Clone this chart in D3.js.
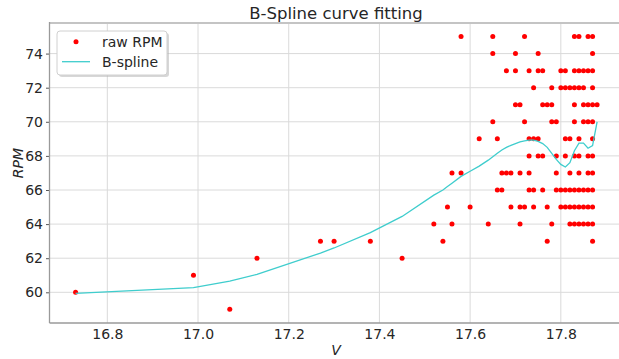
<!DOCTYPE html>
<html>
<head>
<meta charset="utf-8">
<script src="https://cdn.jsdelivr.net/npm/d3@7"></script>
<style>
  body { margin: 0; background: #fff; }
  text { font-family: "DejaVu Sans", sans-serif; }
</style>
</head>
<body>
<div id="chart"></div>
<script>
// raw measurements
const rawV = [
  16.73, 16.99, 17.07, 17.13, 17.27, 17.30, 17.38, 17.45, 17.52, 17.54, 17.55,
  17.58, 17.65, 17.72, 17.83, 17.84, 17.86, 17.87,
  17.65, 17.70, 17.75, 17.87,
  17.68, 17.70, 17.73, 17.75, 17.76, 17.80, 17.81, 17.83, 17.84, 17.85, 17.86, 17.87,
  17.74, 17.78, 17.80, 17.81, 17.82, 17.83, 17.84, 17.85, 17.87,
  17.70, 17.71, 17.76, 17.77, 17.78, 17.83, 17.85, 17.86, 17.87, 17.88,
  17.65, 17.72, 17.78, 17.79, 17.83, 17.85, 17.86, 17.87,
  17.62, 17.66, 17.73, 17.74, 17.75, 17.81, 17.82, 17.84, 17.87,
  17.73, 17.75, 17.76, 17.79, 17.81, 17.83, 17.84, 17.86, 17.87,
  17.56, 17.58, 17.67, 17.68, 17.69, 17.71, 17.73, 17.79, 17.82, 17.84, 17.86, 17.87,
  17.66, 17.67, 17.73, 17.74, 17.76, 17.79, 17.80, 17.81, 17.82, 17.83, 17.84, 17.85, 17.86, 17.87,
  17.60, 17.69, 17.71, 17.72, 17.74, 17.77, 17.80, 17.81, 17.82, 17.83, 17.84, 17.85, 17.86, 17.87,
  17.56, 17.64, 17.71, 17.78, 17.82, 17.83, 17.84, 17.85, 17.86, 17.87,
  17.77, 17.87
];
const rawRPM = [
  60, 61, 59, 62, 63, 63, 63, 62, 64, 63, 65,
  75, 75, 75, 75, 75, 75, 75,
  74, 74, 74, 74,
  73, 73, 73, 73, 73, 73, 73, 73, 73, 73, 73, 73,
  72, 72, 72, 72, 72, 72, 72, 72, 72,
  71, 71, 71, 71, 71, 71, 71, 71, 71, 71,
  70, 70, 70, 70, 70, 70, 70, 70,
  69, 69, 69, 69, 69, 69, 69, 69, 69,
  68, 68, 68, 68, 68, 68, 68, 68, 68,
  67, 67, 67, 67, 67, 67, 67, 67, 67, 67, 67, 67,
  66, 66, 66, 66, 66, 66, 66, 66, 66, 66, 66, 66, 66, 66,
  65, 65, 65, 65, 65, 65, 65, 65, 65, 65, 65, 65, 65, 65,
  64, 64, 64, 64, 64, 64, 64, 64, 64, 64,
  63, 63
];

// fitted B-spline, evaluated at the sorted voltages
const splineV = [16.73, 16.99, 17.07, 17.13, 17.27, 17.30, 17.38, 17.45, 17.52, 17.54,
  17.55, 17.56, 17.58, 17.60, 17.62, 17.64, 17.65, 17.66, 17.67, 17.68, 17.69, 17.70,
  17.71, 17.72, 17.73, 17.74, 17.75, 17.76, 17.77, 17.78, 17.79, 17.80, 17.81, 17.82,
  17.83, 17.84, 17.85, 17.86, 17.87, 17.88];
const splineRPM = [59.94, 60.28, 60.65, 61.05, 62.3, 62.6, 63.5, 64.45, 65.7, 66.0,
  66.2, 66.4, 66.8, 67.1, 67.4, 67.75, 67.95, 68.15, 68.35, 68.5, 68.62, 68.72,
  68.82, 68.88, 68.92, 68.92, 68.85, 68.72, 68.5, 68.15, 67.8, 67.5, 67.35, 67.6,
  68.3, 68.75, 68.75, 68.45, 68.6, 70.0];

const xTicks = [16.8, 17.0, 17.2, 17.4, 17.6, 17.8];
const yTicks = [60, 62, 64, 66, 68, 70, 72, 74];

const width = 619, height = 359;
const plotLeft = 49.5, plotTop = 22.9, plotBottom = 323;

const x = d3.scaleLinear().domain([16.6725, 17.9375]).range([plotLeft, plotLeft + 1.265 * 453.5]);
const y = d3.scaleLinear().domain([58.2, 75.8]).range([plotBottom, plotTop]);

const svg = d3.select('#chart').append('svg')
  .attr('width', width)
  .attr('height', height);

// grid
svg.append('g')
  .selectAll('line')
  .data(xTicks)
  .join('line')
  .attr('x1', d => x(d)).attr('x2', d => x(d))
  .attr('y1', plotTop).attr('y2', plotBottom)
  .attr('stroke', '#dadada').attr('stroke-width', 1);

svg.append('g')
  .selectAll('line')
  .data(yTicks)
  .join('line')
  .attr('x1', plotLeft).attr('x2', width)
  .attr('y1', d => y(d)).attr('y2', d => y(d))
  .attr('stroke', '#dadada').attr('stroke-width', 1);

// axes
const xAxis = svg.append('g')
  .attr('transform', `translate(0,${plotBottom})`)
  .call(d3.axisBottom(x).tickValues(xTicks).tickFormat(d3.format('.1f')).tickSize(0).tickPadding(6));
const yAxis = svg.append('g')
  .attr('transform', `translate(${plotLeft},0)`)
  .call(d3.axisLeft(y).tickValues(yTicks).tickSize(3.5).tickPadding(3));

[xAxis, yAxis].forEach(a => {
  a.select('.domain').remove();
  a.selectAll('text').attr('font-size', 14).attr('fill', '#262626')
    .attr('font-family', '"DejaVu Sans", sans-serif');
  a.selectAll('line').attr('stroke', '#555');
});

// spines
svg.append('line').attr('x1', plotLeft).attr('x2', width).attr('y1', plotTop).attr('y2', plotTop)
  .attr('stroke', '#c4c4c4').attr('stroke-width', 2);
svg.append('line').attr('x1', plotLeft).attr('x2', plotLeft).attr('y1', plotTop - 1).attr('y2', plotBottom)
  .attr('stroke', '#9a9a9a').attr('stroke-width', 1.3);
svg.append('line').attr('x1', plotLeft).attr('x2', width).attr('y1', plotBottom).attr('y2', plotBottom)
  .attr('stroke', '#9a9a9a').attr('stroke-width', 1.3);

// raw points
svg.append('g')
  .selectAll('circle')
  .data(rawV.map((v, i) => [v, rawRPM[i]]))
  .join('circle')
  .attr('cx', d => x(d[0]))
  .attr('cy', d => y(d[1]))
  .attr('r', 2.5)
  .attr('fill', '#ff0000');

// spline
const line = d3.line().x(d => x(d[0])).y(d => y(d[1]));
svg.append('path')
  .datum(splineV.map((v, i) => [v, splineRPM[i]]))
  .attr('d', line)
  .attr('fill', 'none')
  .attr('stroke', '#3fcdcd')
  .attr('stroke-width', 1.3);

// title and labels
svg.append('text')
  .attr('x', 336).attr('y', 19)
  .attr('text-anchor', 'middle')
  .attr('font-size', 16.5)
  .attr('fill', '#262626')
  .text('B-Spline curve fitting');

svg.append('text')
  .attr('x', 336).attr('y', 355)
  .attr('text-anchor', 'middle')
  .attr('font-size', 14)
  .attr('font-style', 'italic')
  .attr('fill', '#262626')
  .text('V');

svg.append('text')
  .attr('transform', 'translate(23,163) rotate(-90)')
  .attr('text-anchor', 'middle')
  .attr('font-size', 14)
  .attr('font-style', 'italic')
  .attr('fill', '#262626')
  .text('RPM');

// legend
const legend = svg.append('g');
legend.append('rect')
  .attr('x', 59).attr('y', 33).attr('width', 110).attr('height', 44).attr('rx', 3)
  .attr('fill', '#b0b0b0').attr('opacity', 0.5);
legend.append('rect')
  .attr('x', 57).attr('y', 31).attr('width', 110).attr('height', 44).attr('rx', 3)
  .attr('fill', '#fff').attr('stroke', '#d0d0d0');
legend.append('circle').attr('cx', 76).attr('cy', 41.7).attr('r', 2.5).attr('fill', '#ff0000');
legend.append('line').attr('x1', 62).attr('x2', 90).attr('y1', 61.7).attr('y2', 61.7)
  .attr('stroke', '#3fcdcd').attr('stroke-width', 1.3);
legend.append('text').attr('x', 102).attr('y', 47).attr('font-size', 14).attr('fill', '#262626').text('raw RPM');
legend.append('text').attr('x', 102).attr('y', 67).attr('font-size', 14).attr('fill', '#262626').text('B-spline');
</script>
</body>
</html>
